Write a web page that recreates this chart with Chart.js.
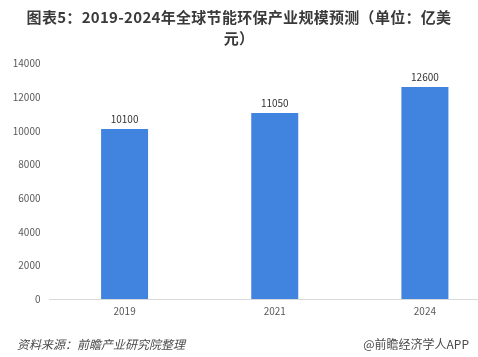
<!DOCTYPE html>
<html>
<head>
<meta charset="utf-8">
<script src="https://cdn.jsdelivr.net/npm/chart.js@4/dist/chart.umd.min.js"></script>
<style>
html, body { margin: 0; padding: 0; width: 478px; height: 357px; overflow: hidden; background: #fff; }
#wrap { position: relative; width: 478px; height: 357px; overflow: hidden; }
#c { position: absolute; left: 0; top: 0; }
#title { position: absolute; left: 0; top: 6px; width: 478px; text-align: center; font-family: "Noto Sans CJK SC", sans-serif; font-weight: bold; font-size: 15px; line-height: 21px; color: #3a3a3a; white-space: nowrap; letter-spacing: 0.3px; }
#src { position: absolute; left: 17px; top: 335px; font-family: "Noto Sans CJK SC", sans-serif; font-style: italic; font-size: 12px; line-height: 18px; color: #4a4a4a; }
#brand { position: absolute; right: 9px; top: 335px; font-family: "Noto Sans CJK SC", sans-serif; font-size: 12px; line-height: 18px; color: #4a4a4a; }
</style>
</head>
<body>
<div id="wrap">
<canvas id="c" width="500" height="357"></canvas>
<div id="title">图表5：2019-2024年全球节能环保产业规模预测（单位：亿美<br>元）</div>
<div id="src">资料来源：前瞻产业研究院整理</div>
<div id="brand">@前瞻经济学人APP</div>
</div>
<script>
const categories = ['2019', '2021', '2024'];
const marketSize = [10100, 11050, 12600];
const yTicks = [0, 2000, 4000, 6000, 8000, 10000, 12000, 14000];

const valueLabels = {
  id: 'valueLabels',
  afterDatasetsDraw(chart) {
    const ctx = chart.ctx;
    const meta = chart.getDatasetMeta(0);
    ctx.save();
    ctx.font = '10px "Noto Sans CJK SC", sans-serif';
    ctx.fillStyle = '#333333';
    ctx.textAlign = 'center';
    ctx.textBaseline = 'bottom';
    meta.data.forEach((bar, i) => {
      ctx.fillText(String(chart.data.datasets[0].data[i]), bar.x, bar.y - 5);
    });
    ctx.restore();
  }
};

new Chart(document.getElementById('c'), {
  type: 'bar',
  data: {
    labels: categories,
    datasets: [{
      data: marketSize,
      backgroundColor: '#4184E0',
      borderWidth: 0,
      categoryPercentage: 1.0,
      barPercentage: 0.313
    }]
  },
  options: {
    responsive: false,
    animation: false,
    devicePixelRatio: 1,
    layout: { padding: { top: 63.5, bottom: 0, left: 0, right: 0 } },
    plugins: { legend: { display: false }, tooltip: { enabled: false }, title: { display: false } },
    scales: {
      x: {
        grid: { display: false, drawTicks: false },
        border: { display: true, color: '#d9d9d9', width: 1 },
        ticks: { color: '#595959', font: { size: 10, family: '"Noto Sans CJK SC", sans-serif' }, padding: 6 },
        afterFit(scale) { scale.height = 58; }
      },
      y: {
        min: 0, max: 14000,
        grid: { display: false, drawTicks: false },
        border: { display: false },
        afterBuildTicks(scale) { scale.ticks = yTicks.map(v => ({ value: v })); },
        ticks: { color: '#595959', font: { size: 10, family: '"Noto Sans CJK SC", sans-serif' }, padding: 9, callback: (v) => String(v) },
        afterFit(scale) { scale.width = 49.5; }
      }
    }
  },
  plugins: [valueLabels]
});
</script>
</body>
</html>
